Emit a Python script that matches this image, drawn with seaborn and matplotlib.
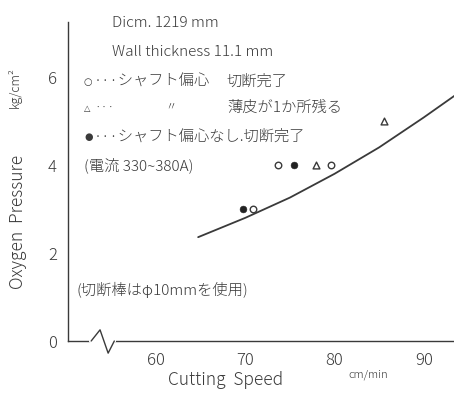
import numpy as np
import pandas as pd
import matplotlib
matplotlib.use("Agg")
import matplotlib.pyplot as plt
import seaborn as sns

# measured points (cutting speed cm/min, oxygen pressure kg/cm2)
open_speed = [70.9, 73.7, 79.6]
open_press = [3.0, 4.0, 4.0]
tri_speed = [77.9, 85.5]
tri_press = [4.0, 5.0]
fill_speed = [69.7, 75.5]
fill_press = [3.0, 4.0]

# hand-drawn trend curve
curve_speed = [64.7, 70, 75, 80, 85, 90, 93.5]
curve_press = [2.36, 2.80, 3.26, 3.80, 4.40, 5.08, 5.58]

xticks = [60, 70, 80, 90]
yticks = [0, 2, 4, 6]

sns.set_style("white")
plt.rcParams["font.family"] = ["Noto Sans CJK JP", "DejaVu Sans"]
ink = "#3a3a3a"

W, H = 454, 399
fig = plt.figure(figsize=(W / 100, H / 100), dpi=100)
ax = fig.add_axes([68 / W, 1 - 341 / H, (W - 68) / W, (341 - 22) / H])

df_curve = pd.DataFrame({"speed": curve_speed, "press": curve_press})
sns.lineplot(data=df_curve, x="speed", y="press", color=ink, lw=1.3, ax=ax)

sns.scatterplot(x=open_speed, y=open_press, marker="o", s=22, facecolor="white",
                edgecolor=ink, linewidth=1.0, ax=ax, zorder=3)
sns.scatterplot(x=tri_speed, y=tri_press, marker="^", s=24, facecolor="white",
                edgecolor=ink, linewidth=1.0, ax=ax, zorder=3)
sns.scatterplot(x=fill_speed, y=fill_press, marker="o", s=24, color="#222222",
                edgecolor="#222222", ax=ax, zorder=3)

ax.set_xlim(50.1, 93.4)
ax.set_ylim(0, 7.25)
ax.set_xticks(xticks)
ax.set_yticks(yticks)
ax.tick_params(direction="in", length=3, width=0.8, colors=ink, labelsize=12,
               labelcolor=ink, pad=8)
for lab in ax.get_xticklabels() + ax.get_yticklabels():
    lab.set_fontweight("light")
sns.despine(ax=ax)
for s in ["left", "bottom"]:
    ax.spines[s].set_color(ink)
    ax.spines[s].set_linewidth(1.0)
ax.set_xlabel("")
ax.set_ylabel("")

# axis break on the x axis
ax.plot([0.060, 0.120], [0, 0], transform=ax.transAxes, color="white", lw=3,
        clip_on=False, zorder=4)
ax.plot([0.060, 0.083, 0.104, 0.120], [0, 0.035, -0.038, 0], transform=ax.transAxes,
        color=ink, lw=1.0, clip_on=False, zorder=5)


def put(px, py, s, size=10.5, weight="light", **kw):
    fig.text(px / W, 1 - py / H, s, fontsize=size, color=ink, va="center",
             fontweight=weight, **kw)


sym = ["DejaVu Sans"]
put(112, 23, "Dicm. 1219 mm", 11)
put(112, 52, "Wall thickness 11.1 mm", 11)
put(84, 82, "○", 7, "normal", family=sym)
put(94, 82, "···シャフト偏心", 11)
put(227, 82, "切断完了", 11)
put(84, 108, "△", 6, "normal", family=sym)
put(94, 108, "···", 9)
put(165, 108, "〃", 8)
put(227, 108, "薄皮が1か所残る", 11)
put(84, 137, "●", 7, "normal", family=sym)
put(94, 137, "···シャフト偏心なし.切断完了", 11)
put(84, 165, "(電流 330~380A)", 11)
put(76, 290, "(切断棒はφ10mmを使用)", 11)

put(168, 380, "Cutting  Speed", 12.5)
put(348, 375, "cm/min", 8)
fig.text(18 / W, 1 - 222 / H, "Oxygen  Pressure", fontsize=12.5, color=ink,
         rotation=90, ha="center", va="center", fontweight="light")
fig.text(15 / W, 1 - 88 / H, "kg/cm²", fontsize=9, color=ink,
         rotation=90, ha="center", va="center", fontweight="light")

fig.savefig("out.png", dpi=100)
